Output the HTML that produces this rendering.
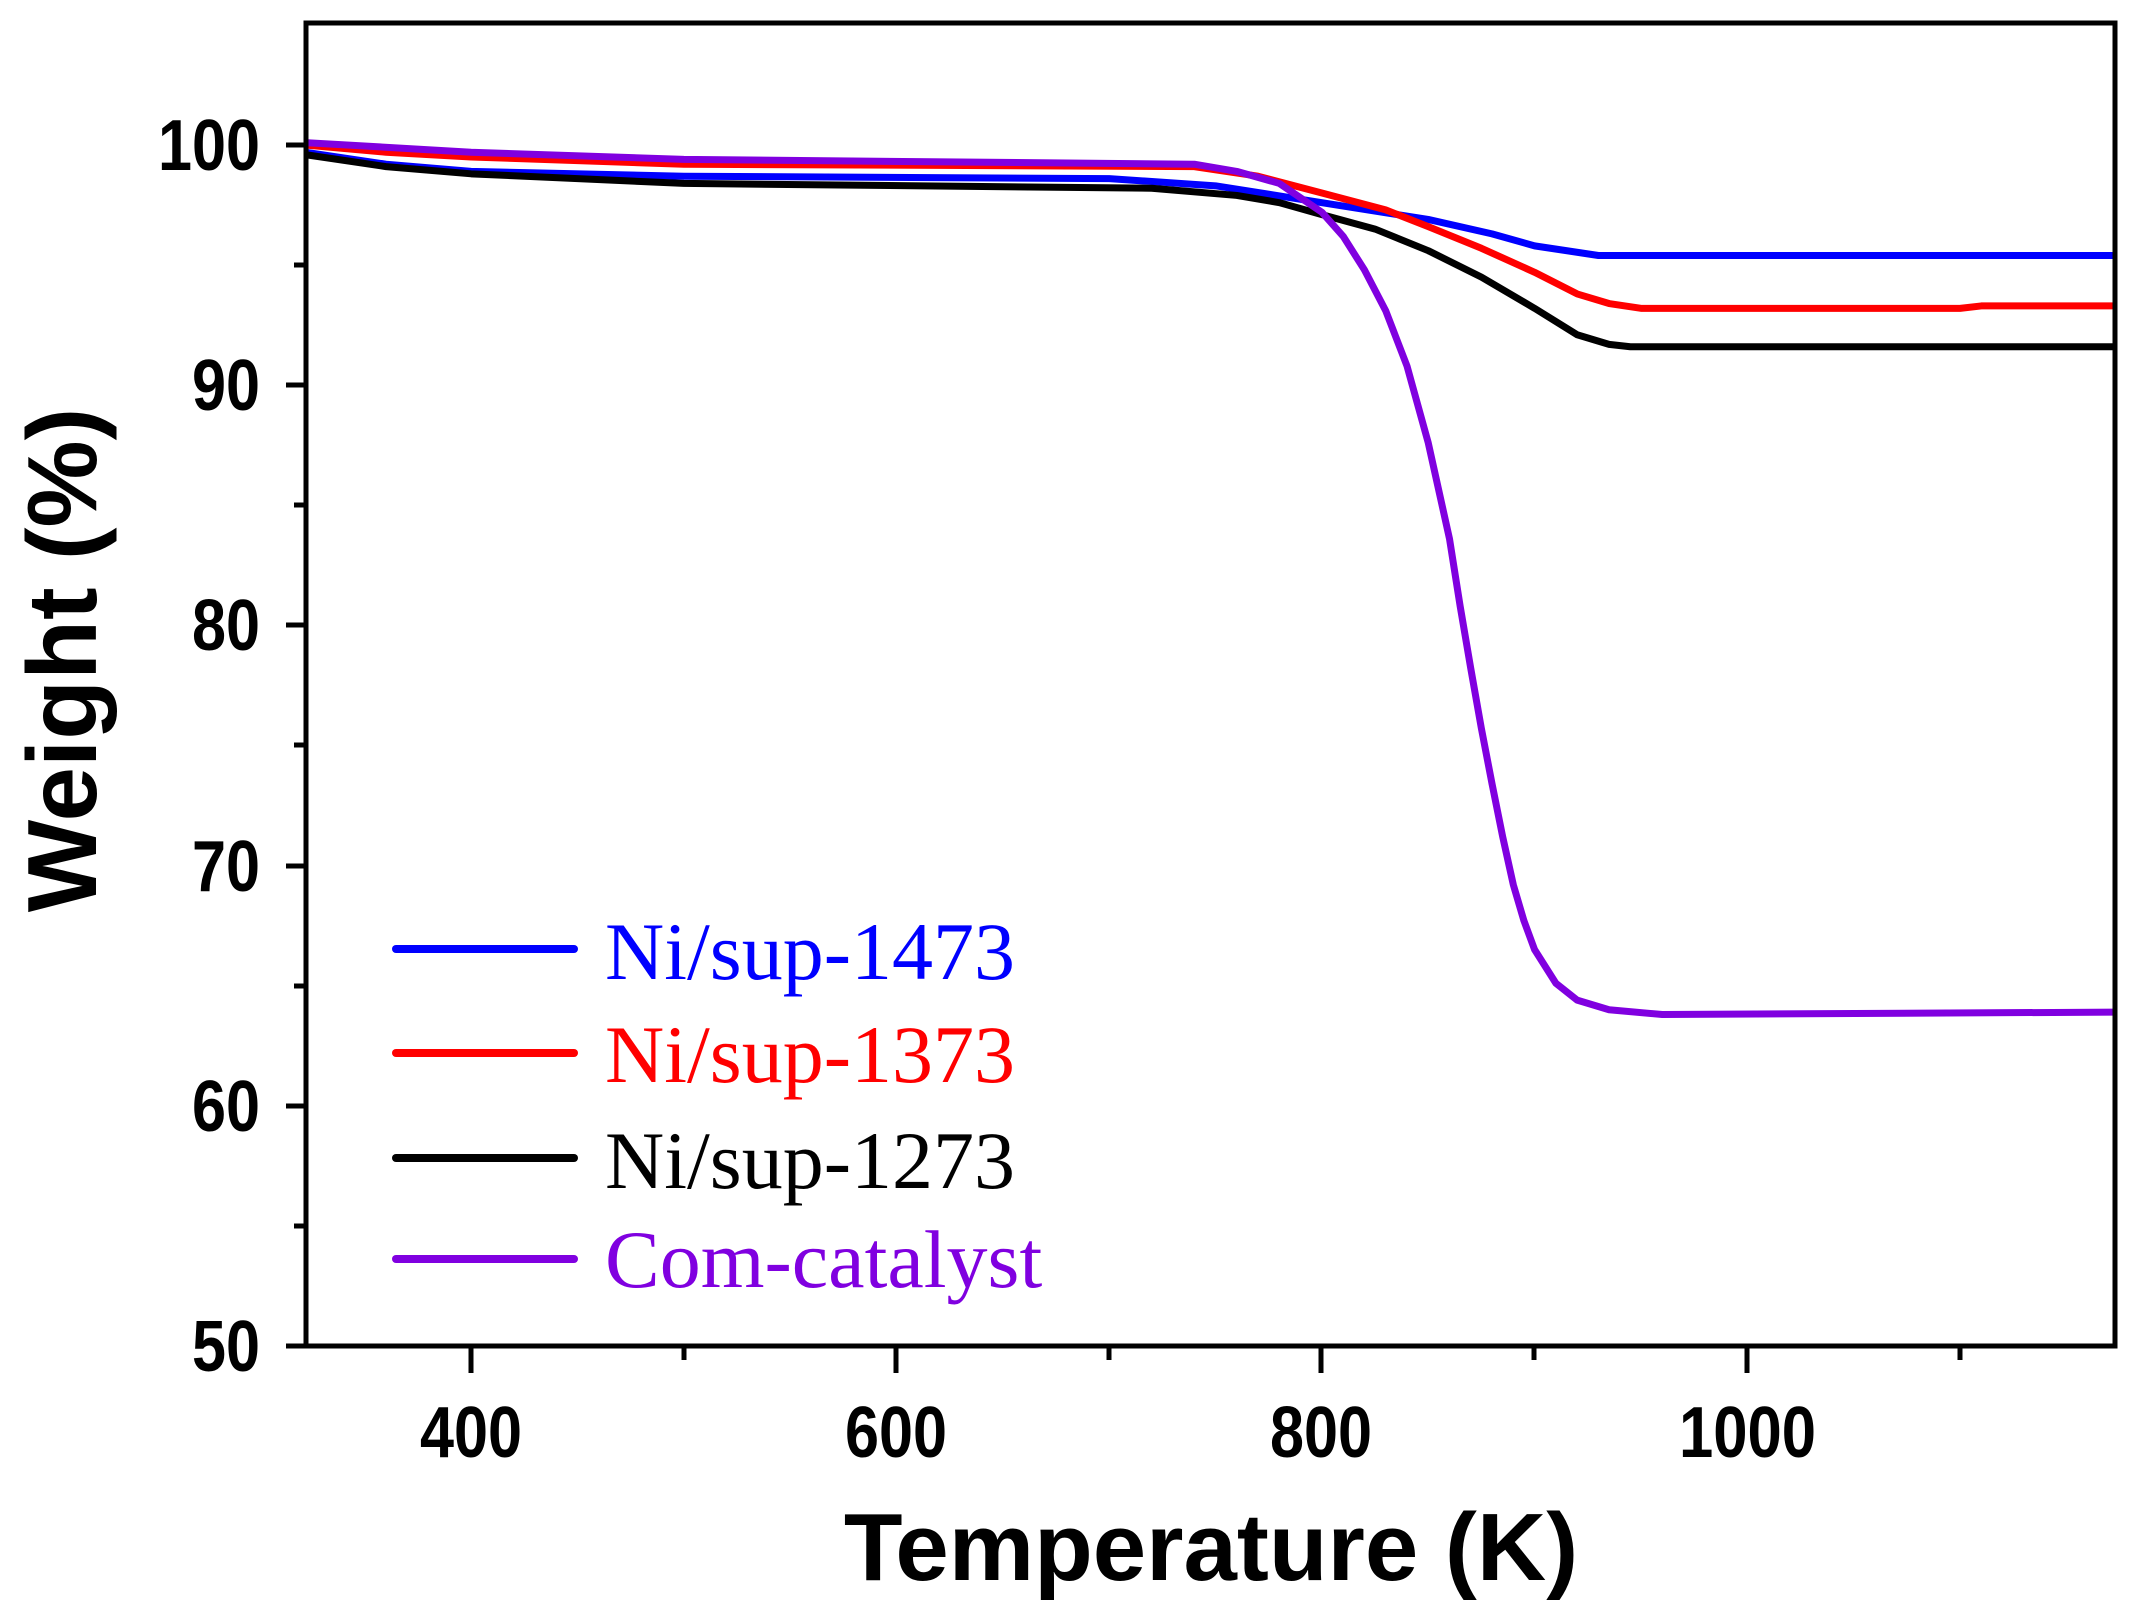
<!DOCTYPE html>
<html><head><meta charset="utf-8"><style>
html,body{margin:0;padding:0;background:#fff;}
svg{display:block;}
.t{font-family:"Liberation Sans",Arial,sans-serif;font-weight:bold;fill:#000;}
.l{font-family:"Liberation Serif","Times New Roman",serif;}
</style></head><body>
<svg width="2142" height="1615" viewBox="0 0 2142 1615" xmlns="http://www.w3.org/2000/svg">
<rect width="2142" height="1615" fill="#fff"/>
<g fill="none" stroke-width="7" stroke-linejoin="round" transform="matrix(2.127 0 0 -24.02 -379.7 2547)">
<polyline vector-effect="non-scaling-stroke" stroke="#0000ff" points="322,99.7 360,99.2 400,98.9 500,98.7 700,98.6 750,98.3 800,97.6 850,96.9 880,96.3 900,95.8 930,95.4 1173,95.4"/>
<polyline vector-effect="non-scaling-stroke" stroke="#ff0000" points="322,100 360,99.7 400,99.5 500,99.2 740,99.1 770,98.7 800,98.0 830,97.3 850,96.6 875,95.7 900,94.7 920,93.8 935,93.4 950,93.2 1100,93.2 1110,93.3 1173,93.3"/>
<polyline vector-effect="non-scaling-stroke" stroke="#000000" points="322,99.6 360,99.1 400,98.8 500,98.4 720,98.2 760,97.9 780,97.6 800,97.1 825,96.5 850,95.6 875,94.5 900,93.2 920,92.1 935,91.7 945,91.6 1173,91.6"/>
<polyline vector-effect="non-scaling-stroke" stroke="#8000e0" points="322,100.1 400,99.7 500,99.4 740,99.2 760,98.9 780,98.4 800,97.2 810,96.2 820,94.8 830,93.1 840,90.8 850,87.6 860,83.6 865,80.8 870,78.2 875,75.7 880,73.4 885,71.2 890,69.2 895,67.7 900,66.5 910,65.1 920,64.4 935,64.0 960,63.8 1173,63.9"/>
</g>
<g stroke="#000" stroke-width="5" fill="none">
<rect x="306" y="23" width="1809" height="1323"/>
<path d="M471 1346v27M896 1346v27M1321 1346v27M1747 1346v27M684 1346v14M1109 1346v14M1534 1346v14M1960 1346v14"/>
<path d="M306 145h-20M306 385h-20M306 625h-20M306 866h-20M306 1106h-20M306 1346h-20M306 265h-12M306 505h-12M306 745h-12M306 986h-12M306 1226h-12"/>
</g>
<g class="t" font-size="72" text-anchor="end" lengthAdjust="spacingAndGlyphs">
<text x="260" y="170" textLength="102" lengthAdjust="spacingAndGlyphs">100</text>
<text x="260" y="410" textLength="68" lengthAdjust="spacingAndGlyphs">90</text>
<text x="260" y="650" textLength="68" lengthAdjust="spacingAndGlyphs">80</text>
<text x="260" y="891" textLength="68" lengthAdjust="spacingAndGlyphs">70</text>
<text x="260" y="1131" textLength="68" lengthAdjust="spacingAndGlyphs">60</text>
<text x="260" y="1371" textLength="68" lengthAdjust="spacingAndGlyphs">50</text>
</g>
<g class="t" font-size="72">
<text x="420" y="1457" textLength="102" lengthAdjust="spacingAndGlyphs">400</text>
<text x="845" y="1457" textLength="102" lengthAdjust="spacingAndGlyphs">600</text>
<text x="1270" y="1457" textLength="102" lengthAdjust="spacingAndGlyphs">800</text>
<text x="1679" y="1457" textLength="137" lengthAdjust="spacingAndGlyphs">1000</text>
</g>
<text class="t" font-size="96" x="1211" y="1580" text-anchor="middle">Temperature (K)</text>
<text class="t" font-size="98" transform="translate(96 660) rotate(-90)" text-anchor="middle">Weight (%)</text>
<g stroke-width="8" stroke-linecap="round">
<line x1="396" y1="949" x2="574" y2="949" stroke="#0000ff"/>
<line x1="396" y1="1053" x2="574" y2="1053" stroke="#ff0000"/>
<line x1="396" y1="1158" x2="574" y2="1158" stroke="#000"/>
<line x1="396" y1="1259" x2="574" y2="1259" stroke="#8000e0"/>
</g>
<g class="l" font-size="82">
<text x="605" y="979" fill="#0000ff">Ni/sup-1473</text>
<text x="605" y="1082" fill="#ff0000">Ni/sup-1373</text>
<text x="605" y="1188" fill="#000">Ni/sup-1273</text>
<text x="605" y="1287" fill="#8000e0">Com-catalyst</text>
</g>
</svg>
</body></html>
